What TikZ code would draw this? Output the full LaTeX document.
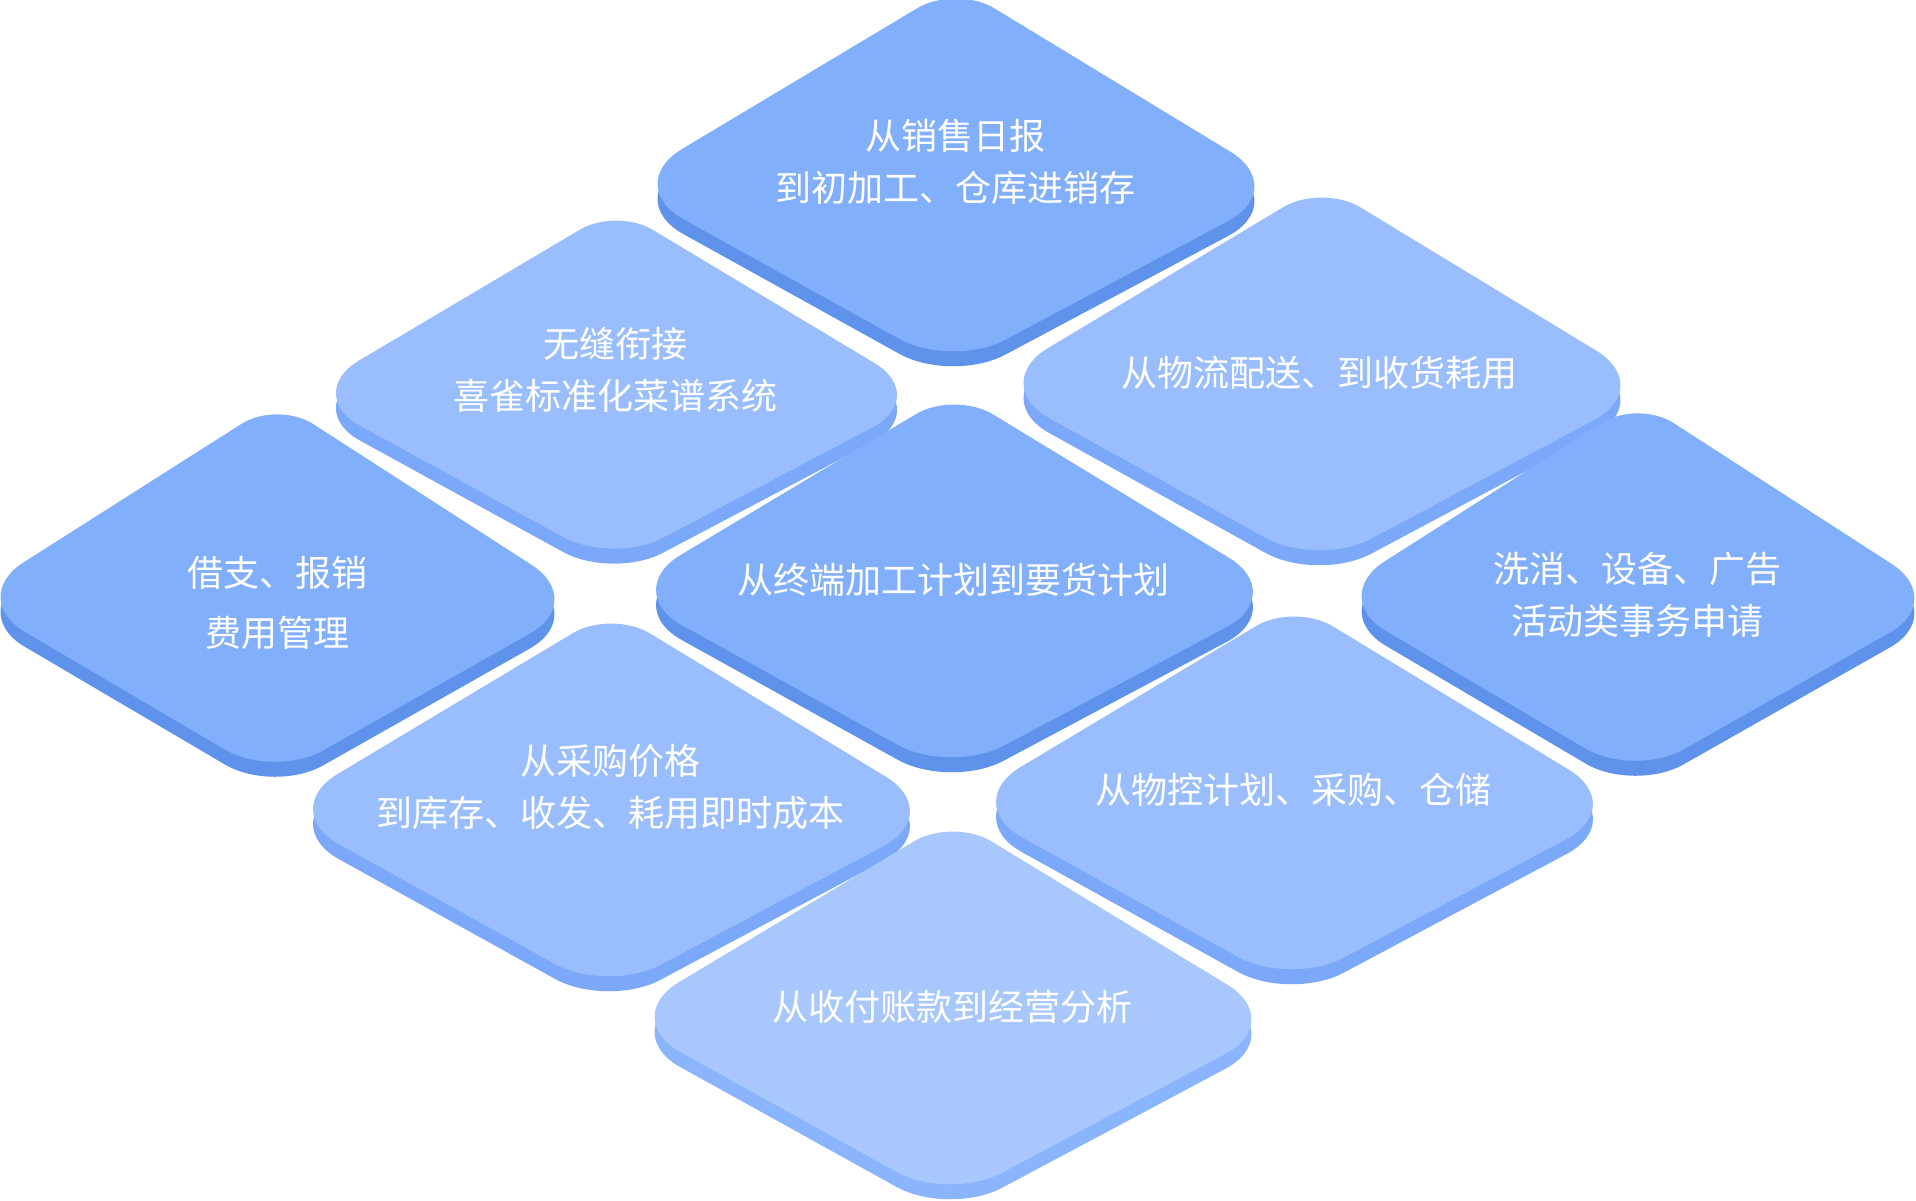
\documentclass[tikz,border=0pt]{standalone}
\usepackage{fontspec}
\newfontfamily\cjk{Noto Sans CJK SC}
\definecolor{faceA}{HTML}{82AFFC}
\definecolor{sideA}{HTML}{5F93EB}
\definecolor{faceB}{HTML}{9ABEFD}
\definecolor{sideB}{HTML}{7BA8F8}
\definecolor{faceC}{HTML}{A8C7FD}
\definecolor{sideC}{HTML}{8AB4FB}
\tikzset{
  tileshape/.style={insert path={(-273.9,-36) -- (-38.6,-176.9)
    .. controls (-17.2,-189.7) and (17.2,-189.6) .. (38.5,-176.6) -- (274.2,-33.4)
    .. controls (307.3,-13.3) and (306.4,17.7) .. (272.2,35.9) -- (49,154.8)
    .. controls (19.7,170.4) and (-27.5,170) .. (-56.5,153.9) -- (-272.8,34)
    .. controls (-306.6,15.2) and (-307.1,-16.1) .. (-273.9,-36) -- cycle}},
  tiletext/.style={text=white, align=center, font=\cjk\fontsize{36}{52}\selectfont}
}
\begin{document}
\begin{tikzpicture}[x=1pt,y=-1pt]
\useasboundingbox (0,0) rectangle (1916,1200);

% tiles: name/x/y/xscale/yscale/colour/text x/text y/text
\foreach \n/\x/\y/\sx/\sy/\c/\tx/\ty/\t in {
sales/956/185/1/1/A/955/162/{从销售日报\\到初加工、仓库进销存},
recipe/616.5/394/0.94/0.93/B/615/370/{无缝衔接\\喜雀标准化菜谱系统},
logistics/1322/384/1/1/B/1319/373/{从物流配送、到收货耗用},
expense/277.5/598/0.928/0.985/A/277/603/{借支、报销\\[8pt]费用管理},
plan/954.5/591/1/1/A/953/580/{从终端加工计划到要货计划},
cleaning/1638/597/0.926/0.985/A/1637/595/{洗消、设备、广告\\活动类事务申请},
cost/611.5/810/1/1/B/610/787/{从采购价格\\到库存、收发、耗用即时成本},
control/1294.5/803/1/1/B/1293/790/{从物控计划、采购、仓储},
finance/953/1018/1/1/C/952/1007/{从收付账款到经营分析}} {
\fill[side\c, shift={(\x,\y+15)}, xscale=\sx, yscale=\sy, tileshape];
\fill[face\c, shift={(\x,\y)}, xscale=\sx, yscale=\sy, tileshape];
\node[tiletext] (\n) at (\tx,\ty) {\t};
}
\end{tikzpicture}
\end{document}
